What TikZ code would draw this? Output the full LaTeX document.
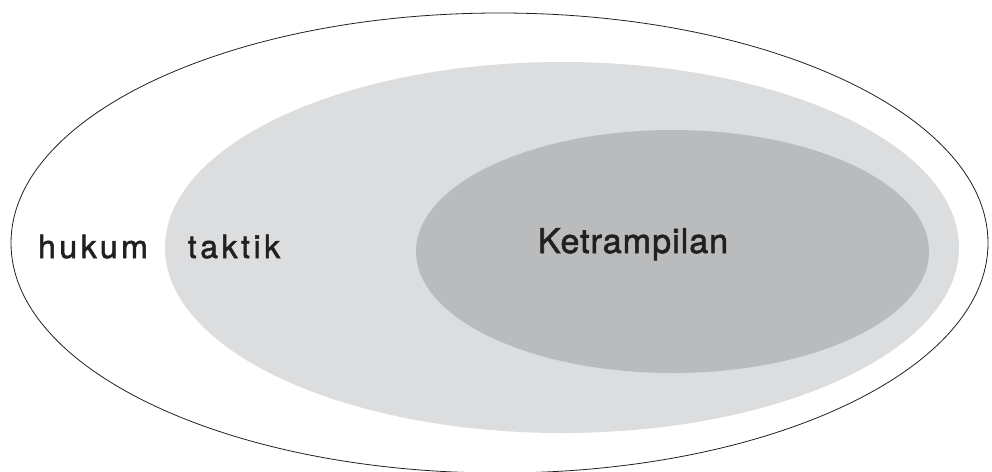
\documentclass[tikz,border=0pt]{standalone}
\usepackage{fontspec}
\setmainfont{TeX Gyre Heros}
\newfontfamily\widefont[LetterSpace=11,FakeBold=1.6]{TeX Gyre Heros}
\newfontfamily\midfont[LetterSpace=3,FakeBold=1.6]{TeX Gyre Heros}
\definecolor{outerline}{HTML}{231F20}
\definecolor{midgrey}{HTML}{DCDDDF}
\definecolor{innergrey}{HTML}{B9BBBD}
\definecolor{txt}{HTML}{231F20}
\begin{document}
\begin{tikzpicture}[x=1pt,y=-1pt,
  lbl/.style={text=txt, anchor=base, inner sep=0pt}]
\useasboundingbox (0,0) rectangle (992,471);
\draw[outerline, line width=0.8pt] (499.5,243) ellipse [x radius=488.5, y radius=230];
\fill[midgrey] (562,247.5) ellipse [x radius=397, y radius=185.5];
\fill[innergrey] (672.5,251.5) ellipse [x radius=256.5, y radius=121.5];
\node[lbl] (hukum) at (93,258) {\widefont\fontsize{32}{36}\selectfont hukum};
\node[lbl] (taktik) at (234,258) {\widefont\fontsize{32}{36}\selectfont taktik};
\node[lbl] (ket) at (633,253) {\midfont\fontsize{34}{40}\selectfont Ketrampilan};
\end{tikzpicture}
\end{document}
